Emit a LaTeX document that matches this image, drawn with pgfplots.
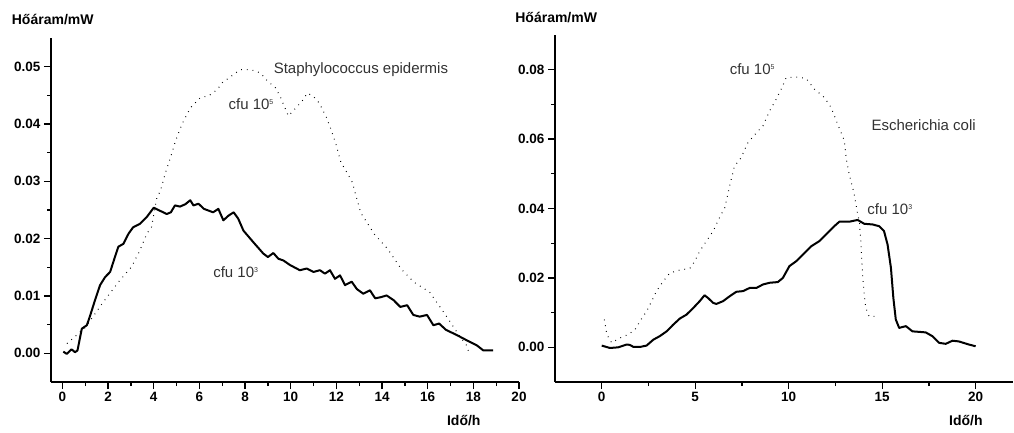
\documentclass[border=0pt]{standalone}
\usepackage{fontspec}
\setmainfont{Liberation Sans}
\usepackage{pgfplots}
\pgfplotsset{compat=1.18}

\definecolor{annot}{RGB}{50,50,50}

\pgfplotsset{
  kal/.style={
    scale only axis,
    axis lines=left,
    axis line style={-, line width=1.5pt},
    tick style={black, line width=1.3pt},
    tick align=outside,
    major tick length=7pt,
    minor tick length=4pt,
    minor tick num=1,
    ticklabel style={font=\bfseries\fontsize{13.5}{14}\selectfont},
    /pgf/number format/assume math mode=true,
    scaled y ticks=false,
    yticklabel style={/pgf/number format/.cd, fixed, fixed zerofill, precision=2},
    clip=false,
  },
  cfu3/.style={black, line width=2pt, line join=round},
  cfu5/.style={black, line width=1pt, dash pattern=on 0.8pt off 5pt},
}

\newcommand{\lab}{\bfseries\fontsize{14}{14}\selectfont}
\newcommand{\annot}{\fontsize{15}{15}\selectfont\color{annot}}
\newcommand{\supsc}[1]{\textsuperscript{\fontsize{7}{7}\selectfont #1}}

\begin{document}
\begin{tikzpicture}[x=1pt,y=1pt]
\useasboundingbox (0,0) rectangle (1014,-432);

% --- Staphylococcus epidermis
\begin{axis}[kal,
  at={(51pt,-382pt)}, anchor=south west,
  width=468pt, height=344pt,
  xmin=-0.5, xmax=20, ymin=-0.005, ymax=0.055,
  xtick={0,2,...,20},
  ytick={0,0.01,...,0.05},
  every axis x label/.style={at={(rel axis cs:0.882,-0.113)}, anchor=center, inner sep=0pt, font=\lab},
  every axis y label/.style={at={(rel axis cs:-0.084,1.055)}, anchor=west, inner sep=0pt, font=\lab},
  xlabel={Idő/h},
  ylabel={Hőáram/mW},
]
\addplot[cfu5] coordinates {
(0.2,0.0017) (1.0,0.0045) (1.8,0.009) (2.53,0.0128) (3.03,0.0151) (3.4,0.018)
(3.7,0.0209) (3.9,0.022) (4.14,0.0272) (4.29,0.0283) (4.5,0.0313) (4.73,0.0341)
(4.95,0.037) (5.24,0.04) (5.6,0.0428) (6.04,0.0446) (6.4,0.0449) (6.78,0.046)
(7.0,0.0472) (7.8,0.0495) (8.24,0.0495) (8.68,0.0489) (8.98,0.0475) (9.34,0.0463)
(9.56,0.0446) (9.9,0.0414) (10.5,0.044) (10.73,0.0454) (11.0,0.0448) (11.24,0.0437)
(11.54,0.0414) (11.76,0.0391) (11.98,0.0365) (12.2,0.0333) (12.5,0.0313) (12.7,0.0298)
(12.86,0.0275) (13.07,0.0245) (13.66,0.0208) (14.25,0.0182) (14.84,0.0147) (15.4,0.0124)
(16.08,0.0107) (16.45,0.0086) (16.9,0.006) (17.33,0.0034) (17.7,0.0014) (17.84,-0.0003)
};
\addplot[cfu3] coordinates {
(0.04,0.0003) (0.19,-0.0001) (0.4,0.0007) (0.55,0.0002) (0.66,0.0005) (0.85,0.0043)
(1.07,0.0049) (1.2,0.0064) (1.43,0.0093) (1.65,0.0119) (1.87,0.0133) (2.09,0.0142)
(2.3,0.0168) (2.45,0.0186) (2.67,0.0191) (2.9,0.0209) (3.1,0.022) (3.4,0.0226)
(3.7,0.0238) (4.0,0.0254) (4.2,0.025) (4.42,0.0246) (4.57,0.0243) (4.75,0.0246)
(4.93,0.0258) (5.15,0.0256) (5.38,0.026) (5.6,0.0267) (5.74,0.0258) (5.96,0.0261)
(6.2,0.0252) (6.4,0.0249) (6.6,0.0246) (6.83,0.0252) (7.05,0.0232) (7.27,0.024)
(7.5,0.0246) (7.7,0.0235) (7.93,0.0214) (8.36,0.0194) (8.8,0.0174) (9.0,0.0168)
(9.24,0.0175) (9.46,0.0165) (9.68,0.0162) (9.97,0.0154) (10.4,0.0145) (10.7,0.0148)
(11.0,0.0142) (11.28,0.0145) (11.5,0.0139) (11.72,0.0145) (11.94,0.013) (12.16,0.0136)
(12.38,0.0119) (12.67,0.0125) (12.9,0.0112) (13.18,0.0104) (13.47,0.011) (13.7,0.0096)
(13.95,0.0098) (14.2,0.0101) (14.5,0.0093) (14.8,0.0081) (15.1,0.0084) (15.37,0.0067)
(15.65,0.0064) (15.97,0.0067) (16.25,0.0049) (16.5,0.0052) (16.8,0.0041) (17.27,0.0032)
(17.7,0.0023) (18.15,0.0014) (18.44,0.0005) (18.87,0.0005)
};
\node[anchor=west, inner sep=0pt, font=\annot] at (axis cs:9.25,0.0494) {Staphylococcus epidermis};
\node[anchor=west, inner sep=0pt, font=\annot] at (axis cs:7.27,0.0435) {cfu 10\supsc{5}};
\node[anchor=west, inner sep=0pt, font=\annot] at (axis cs:6.6,0.0141) {cfu 10\supsc{3}};
\end{axis}

% --- Escherichia coli
\begin{axis}[kal,
  at={(555pt,-382pt)}, anchor=south west,
  width=458pt, height=347pt,
  xmin=-2.5, xmax=22, ymin=-0.01, ymax=0.09,
  xtick={0,5,...,20},
  ytick={0,0.02,...,0.08},
  every axis x label/.style={at={(rel axis cs:0.897,-0.11)}, anchor=center, inner sep=0pt, font=\lab},
  every axis y label/.style={at={(rel axis cs:-0.087,1.049)}, anchor=west, inner sep=0pt, font=\lab},
  xlabel={Idő/h},
  ylabel={Hőáram/mW},
]
\addplot[cfu5] coordinates {
(0.14,0.008) (0.27,0.0037) (0.53,0.0013) (0.98,0.0027) (1.42,0.0037) (1.78,0.0051)
(2.04,0.0075) (2.4,0.0104) (2.67,0.0133) (2.93,0.0162) (3.29,0.019) (3.64,0.0214)
(4.18,0.0223) (4.71,0.0227) (4.98,0.0248) (5.24,0.0277) (5.6,0.0306) (5.96,0.0335)
(6.31,0.0375) (6.58,0.0402) (6.84,0.0465) (7.1,0.0522) (7.45,0.0546) (7.82,0.059)
(8.27,0.0618) (8.62,0.0638) (8.98,0.0681) (9.33,0.0715) (9.6,0.0744) (9.87,0.0777)
(10.4,0.0779) (10.93,0.0775) (11.38,0.0744) (11.91,0.072) (12.27,0.0691) (12.62,0.0643)
(12.98,0.0595) (13.07,0.0546) (13.24,0.0498) (13.51,0.0441) (13.69,0.0383) (13.78,0.0364)
(13.87,0.0296) (13.95,0.021) (14.04,0.0152) (14.13,0.0113) (14.3,0.0089) (14.76,0.0089)
};
\addplot[cfu3] coordinates {
(0,0.0005) (0.44,-0.0002) (0.89,0) (1.33,0.0008) (1.5,0.0007) (1.7,0.0001)
(2.04,0.0001) (2.4,0.0005) (2.76,0.0022) (3.1,0.0032) (3.47,0.0046) (3.82,0.0065)
(4.18,0.0083) (4.53,0.0094) (4.89,0.0113) (5.24,0.0133) (5.5,0.015) (5.69,0.0142)
(5.96,0.0128) (6.13,0.0125) (6.49,0.0133) (6.84,0.0147) (7.2,0.016) (7.56,0.0162)
(7.91,0.0171) (8.27,0.0171) (8.62,0.0181) (8.98,0.0186) (9.42,0.0188) (9.69,0.02)
(10.04,0.0234) (10.4,0.0248) (10.76,0.0267) (11.2,0.0291) (11.64,0.0306) (12.09,0.033)
(12.44,0.0349) (12.71,0.0362) (13.24,0.0362) (13.69,0.0367) (14.04,0.0356) (14.49,0.0354)
(14.84,0.0349) (15.1,0.0335) (15.29,0.0296) (15.47,0.0229) (15.6,0.0142) (15.73,0.008)
(15.91,0.0056) (16.27,0.0061) (16.62,0.0046) (17.33,0.0043) (17.69,0.0032) (18.04,0.0013)
(18.4,0.001) (18.76,0.0019) (19.1,0.0017) (19.64,0.0008) (20,0.0003)
};
\node[anchor=west, inner sep=0pt, font=\annot] at (axis cs:6.84,0.0802) {cfu 10\supsc{5}};
\node[anchor=west, inner sep=0pt, font=\annot] at (axis cs:14.42,0.0641) {Escherichia coli};
\node[anchor=west, inner sep=0pt, font=\annot] at (axis cs:14.2,0.0398) {cfu 10\supsc{3}};
\end{axis}
\end{tikzpicture}
\end{document}
